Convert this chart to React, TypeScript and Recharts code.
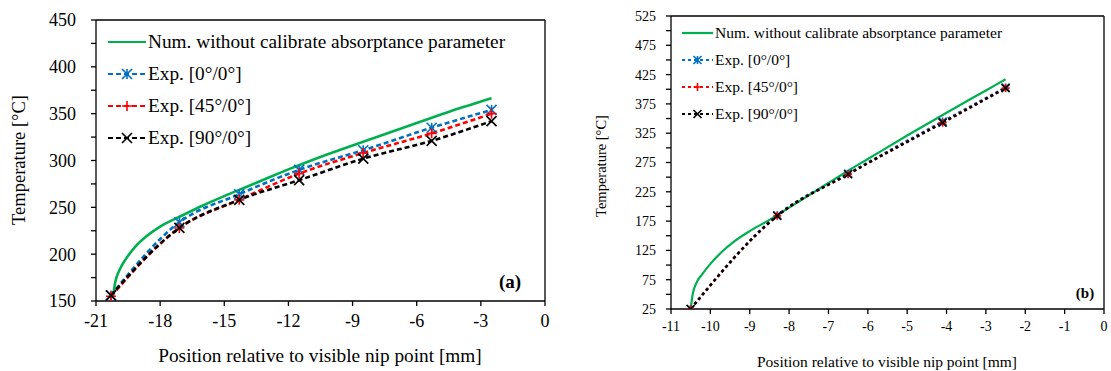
import React from "react";
import { LineChart, Line, XAxis, YAxis, ReferenceLine } from "recharts";

// ─── Panel (a) data ───────────────────────────────────────────────
const expXA = [-20.3, -17.1, -14.3, -11.5, -8.5, -5.3, -2.5];
const exp0A = [156, 234, 264, 290, 311, 335, 354];
const exp45A = [155, 228, 258, 286, 308, 329, 350];
const exp90A = [156, 228, 258, 279, 302, 321, 342];
const numXA = [-20.2, -20.1, -19.9, -19.6, -19.2, -18.7, -18.0, -17.0, -16.0, -15.0, -14.0, -13.0, -12.0, -11.0, -10.0, -9.0, -8.0, -7.0, -6.0, -5.0, -4.0, -3.0, -2.5];
const numYA = [155, 170, 183, 195, 207, 218, 229.5, 241, 252, 262, 271.5, 281, 290.5, 299.5, 308, 316, 324, 332, 340, 348, 355.8, 363, 366.5];
const xTicksA = [-21, -18, -15, -12, -9, -6, -3, 0];
const yTicksA = [150, 175, 200, 225, 250, 275, 300, 325, 350, 375, 400, 425, 450];

// ─── Panel (b) data ───────────────────────────────────────────────
const expXB = [-10.5, -8.3, -6.5, -4.1, -2.5];
const exp0B = [25, 185, 256, 345, 403];
const exp45B = [25, 184, 255, 343, 402];
const exp90B = [25, 184, 255, 343, 402];
const numXB = [-10.5, -10.45, -10.35, -10.2, -10.0, -9.7, -9.4, -9.0, -8.5, -8.0, -7.5, -7.0, -6.5, -6.0, -5.0, -4.0, -3.0, -2.5];
const numYB = [25, 50, 70, 85, 102, 123, 140, 158, 177, 198, 219, 240, 261, 281, 321, 360, 398, 417];
const xTicksB = [-11, -10, -9, -8, -7, -6, -5, -4, -3, -2, -1, 0];
const yTicksB = [25, 50, 75, 100, 125, 150, 175, 200, 225, 250, 275, 300, 325, 350, 375, 400, 425, 450, 475, 500, 525];

const LEGEND = [
  "Num. without calibrate absorptance parameter",
  "Exp. [0°/0°]",
  "Exp. [45°/0°]",
  "Exp. [90°/0°]",
];

const GREEN = "#00b050";
const BLUE = "#0070c0";
const RED = "#ff0000";
const BLACK = "#000000";
const FONT = "Liberation Serif, Times New Roman, serif";

const zip = (xs: number[], ys: number[]) => xs.map((x, i) => ({ x, y: ys[i] }));

// ─── Markers ──────────────────────────────────────────────────────
type Mark = "star" | "plus" | "cross";

function markerPath(kind: Mark, cx: number, cy: number, r: number) {
  const v = `M${cx},${cy - r}L${cx},${cy + r}`;
  const h = `M${cx - r},${cy}L${cx + r},${cy}`;
  const d = `M${cx - r},${cy - r}L${cx + r},${cy + r}M${cx - r},${cy + r}L${cx + r},${cy - r}`;
  if (kind === "plus") return v + h;
  if (kind === "cross") return d;
  return v + d;
}

const makeDot = (kind: Mark, color: string, r: number) => (props: any) => {
  const { cx, cy, index } = props;
  if (cx == null || cy == null) return <g key={index} />;
  return <path key={index} d={markerPath(kind, cx, cy, r)} stroke={color} strokeWidth={1.6} fill="none" />;
};

// ─── Legend (drawn over the plot) ─────────────────────────────────
function LegendBox({ left, top, fontSize, rowGap, lineW, r, dash }: { left: number; top: number; fontSize: number; rowGap: number; lineW: number; r: number; dash: string }) {
  const items: { color: string; dash?: string; mark?: Mark }[] = [
    { color: GREEN },
    { color: BLUE, dash, mark: "star" },
    { color: RED, dash, mark: "plus" },
    { color: BLACK, dash, mark: "cross" },
  ];
  return (
    <div style={{ position: "absolute", left, top, fontFamily: FONT, fontSize, color: "#000", lineHeight: 1 }}>
      {items.map((it, i) => (
        <div key={i} style={{ display: "flex", alignItems: "center", height: rowGap }}>
          <svg width={lineW} height={14} style={{ marginRight: 2 }}>
            <line x1={0} y1={7} x2={lineW} y2={7} stroke={it.color} strokeWidth={2.2} strokeDasharray={it.dash} />
            {it.mark && <path d={markerPath(it.mark, lineW / 2, 7, r)} stroke={it.color} strokeWidth={1.6} fill="none" />}
          </svg>
          <span style={{ whiteSpace: "nowrap" }}>{LEGEND[i]}</span>
        </div>
      ))}
    </div>
  );
}

// ─── Panel (a) ────────────────────────────────────────────────────
function PanelA() {
  const tick = { fill: "#000", fontSize: 18, fontFamily: FONT };
  return (
    <div style={{ position: "absolute", left: 0, top: 0, width: 560, height: 371 }}>
      <LineChart width={560} height={371} margin={{ top: 20, right: 15, bottom: 0, left: 0 }}>
        <XAxis
          type="number"
          dataKey="x"
          domain={[-21, 0]}
          ticks={xTicksA}
          interval={0}
          allowDataOverflow
          height={70}
          tick={tick}
          tickSize={5}
          tickMargin={8}
          stroke="#000"
          strokeWidth={1.3}
        />
        <YAxis
          type="number"
          dataKey="y"
          domain={[150, 450]}
          ticks={yTicksA}
          interval={0}
          allowDataOverflow
          width={96}
          tick={tick}
          tickSize={5}
          tickMargin={15}
          tickFormatter={(v: number) => (v % 50 === 0 ? String(v) : "")}
          stroke="#000"
          strokeWidth={1.3}
        />
        <ReferenceLine y={450} stroke="#000" strokeWidth={1.3} />
        <ReferenceLine x={0} stroke="#000" strokeWidth={1.3} />
        <Line data={zip(numXA, numYA)} dataKey="y" type="monotone" stroke={GREEN} strokeWidth={2.6} dot={false} isAnimationActive={false} />
        <Line data={zip(expXA, exp0A)} dataKey="y" type="monotone" stroke={BLUE} strokeWidth={2.6} strokeDasharray="5 3" dot={makeDot("star", BLUE, 5)} isAnimationActive={false} />
        <Line data={zip(expXA, exp45A)} dataKey="y" type="monotone" stroke={RED} strokeWidth={2.6} strokeDasharray="5 3" dot={makeDot("plus", RED, 5)} isAnimationActive={false} />
        <Line data={zip(expXA, exp90A)} dataKey="y" type="monotone" stroke={BLACK} strokeWidth={2.6} strokeDasharray="5 3" dot={makeDot("cross", BLACK, 5)} isAnimationActive={false} />
      </LineChart>
      <LegendBox left={108} top={26} fontSize={19.3} rowGap={32} lineW={38} r={5} dash="5 3" />
      <div style={{ position: "absolute", left: 19, top: 160, transform: "translate(-50%, -50%) rotate(-90deg)", fontFamily: FONT, fontSize: 18.5, whiteSpace: "nowrap" }}>
        Temperature [°C]
      </div>
      <div style={{ position: "absolute", left: 320, top: 356, transform: "translate(-50%, -50%)", fontFamily: FONT, fontSize: 19.3, whiteSpace: "nowrap" }}>
        Position relative to visible nip point [mm]
      </div>
      <div style={{ position: "absolute", left: 510, top: 282, transform: "translate(-50%, -50%)", fontFamily: FONT, fontSize: 19, fontWeight: "bold" }}>
        (a)
      </div>
    </div>
  );
}

// ─── Panel (b) ────────────────────────────────────────────────────
function PanelB() {
  const tick = { fill: "#000", fontSize: 14, fontFamily: FONT };
  return (
    <div style={{ position: "absolute", left: 560, top: 0, width: 551, height: 371 }}>
      <LineChart width={551} height={371} margin={{ top: 16, right: 7, bottom: 0, left: 0 }}>
        <XAxis
          type="number"
          dataKey="x"
          domain={[-11, 0]}
          ticks={xTicksB}
          interval={0}
          allowDataOverflow
          height={62}
          tick={tick}
          tickSize={5}
          tickMargin={7}
          stroke="#000"
          strokeWidth={1.3}
        />
        <YAxis
          type="number"
          dataKey="y"
          domain={[25, 525]}
          ticks={yTicksB}
          interval={0}
          allowDataOverflow
          width={111}
          tick={tick}
          tickSize={5}
          tickMargin={10}
          tickFormatter={(v: number) => ((v - 25) % 50 === 0 ? String(v) : "")}
          stroke="#000"
          strokeWidth={1.3}
        />
        <ReferenceLine y={525} stroke="#000" strokeWidth={1.3} />
        <ReferenceLine x={0} stroke="#000" strokeWidth={1.3} />
        <Line data={zip(numXB, numYB)} dataKey="y" type="monotone" stroke={GREEN} strokeWidth={2.2} dot={false} isAnimationActive={false} />
        <Line data={zip(expXB, exp0B)} dataKey="y" type="monotone" stroke={BLUE} strokeWidth={2.4} strokeDasharray="3 3" dot={makeDot("star", BLUE, 4)} isAnimationActive={false} />
        <Line data={zip(expXB, exp45B)} dataKey="y" type="monotone" stroke={RED} strokeWidth={2.4} strokeDasharray="3 3" dot={makeDot("plus", RED, 4)} isAnimationActive={false} />
        <Line data={zip(expXB, exp90B)} dataKey="y" type="monotone" stroke={BLACK} strokeWidth={2.4} strokeDasharray="3 3" dot={makeDot("cross", BLACK, 4)} isAnimationActive={false} />
      </LineChart>
      <LegendBox left={122} top={19} fontSize={15.5} rowGap={27} lineW={31} r={4} dash="3 3" />
      <div style={{ position: "absolute", left: 41, top: 166, transform: "translate(-50%, -50%) rotate(-90deg)", fontFamily: FONT, fontSize: 14.5, whiteSpace: "nowrap" }}>
        Temperature [°C]
      </div>
      <div style={{ position: "absolute", left: 327, top: 362, transform: "translate(-50%, -50%)", fontFamily: FONT, fontSize: 15.5, whiteSpace: "nowrap" }}>
        Position relative to visible nip point [mm]
      </div>
      <div style={{ position: "absolute", left: 525, top: 293, transform: "translate(-50%, -50%)", fontFamily: FONT, fontSize: 15, fontWeight: "bold" }}>
        (b)
      </div>
    </div>
  );
}

export default function App() {
  return (
    <div style={{ position: "absolute", left: 0, top: 0, width: 1111, height: 371, background: "#fff", overflow: "hidden" }}>
      <PanelA />
      <PanelB />
    </div>
  );
}
